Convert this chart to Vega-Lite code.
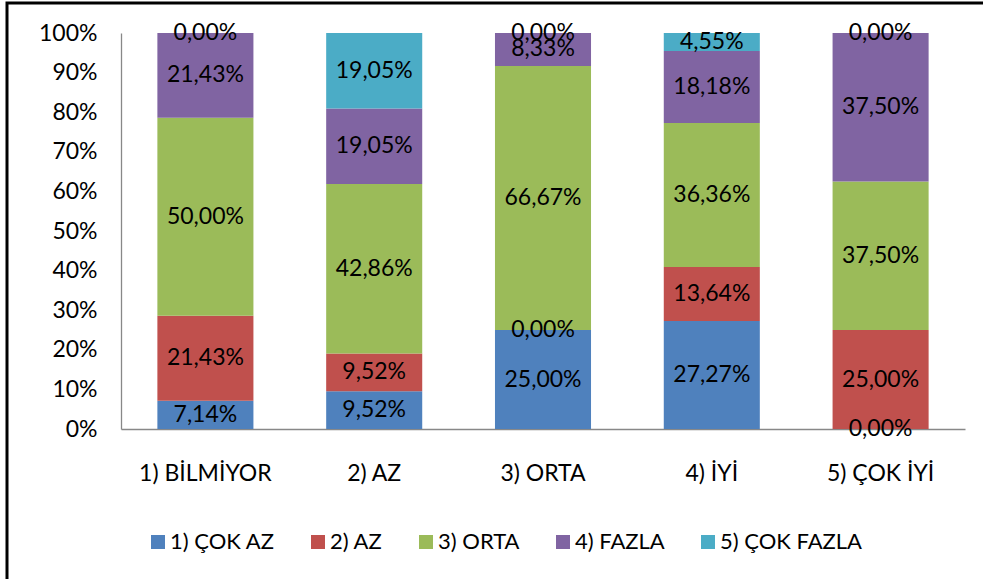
{
  "$schema": "https://vega.github.io/schema/vega-lite/v6.json",
  "width": 976,
  "height": 576,
  "autosize": {"type": "none"},
  "padding": {"left": 7, "top": 3, "right": 0, "bottom": 0},
  "background": "#ffffff",
  "config": {
    "font": "Lato",
    "locale": {"number": {"decimal": ",", "thousands": ".", "grouping": [3], "currency": ["", " TL"]}},
    "view": {"stroke": "#000000", "strokeWidth": 3, "fill": "#ffffff", "strokeDash": [976, 1552, 576]},
    "axis": {"labelFont": "Lato", "labelFontSize": 23, "labelColor": "#000000", "domainColor": "#888888", "domainWidth": 1.3, "ticks": false, "tickSize": 0, "grid": false, "title": null}
  },
  "data": {
    "values": [
      {"cat": "1) BİLMİYOR", "s": "1) ÇOK AZ", "v": 0.0714},
      {"cat": "1) BİLMİYOR", "s": "2) AZ", "v": 0.2143},
      {"cat": "1) BİLMİYOR", "s": "3) ORTA", "v": 0.5000},
      {"cat": "1) BİLMİYOR", "s": "4) FAZLA", "v": 0.2143},
      {"cat": "1) BİLMİYOR", "s": "5) ÇOK FAZLA", "v": 0.0},
      {"cat": "2) AZ", "s": "1) ÇOK AZ", "v": 0.0952},
      {"cat": "2) AZ", "s": "2) AZ", "v": 0.0952},
      {"cat": "2) AZ", "s": "3) ORTA", "v": 0.4286},
      {"cat": "2) AZ", "s": "4) FAZLA", "v": 0.1905},
      {"cat": "2) AZ", "s": "5) ÇOK FAZLA", "v": 0.1905},
      {"cat": "3) ORTA", "s": "1) ÇOK AZ", "v": 0.2500},
      {"cat": "3) ORTA", "s": "2) AZ", "v": 0.0},
      {"cat": "3) ORTA", "s": "3) ORTA", "v": 0.6667},
      {"cat": "3) ORTA", "s": "4) FAZLA", "v": 0.0833},
      {"cat": "3) ORTA", "s": "5) ÇOK FAZLA", "v": 0.0},
      {"cat": "4) İYİ", "s": "1) ÇOK AZ", "v": 0.2727},
      {"cat": "4) İYİ", "s": "2) AZ", "v": 0.1364},
      {"cat": "4) İYİ", "s": "3) ORTA", "v": 0.3636},
      {"cat": "4) İYİ", "s": "4) FAZLA", "v": 0.1818},
      {"cat": "4) İYİ", "s": "5) ÇOK FAZLA", "v": 0.0455},
      {"cat": "5) ÇOK İYİ", "s": "1) ÇOK AZ", "v": 0.0},
      {"cat": "5) ÇOK İYİ", "s": "2) AZ", "v": 0.2500},
      {"cat": "5) ÇOK İYİ", "s": "3) ORTA", "v": 0.3750},
      {"cat": "5) ÇOK İYİ", "s": "4) FAZLA", "v": 0.3750},
      {"cat": "5) ÇOK İYİ", "s": "5) ÇOK FAZLA", "v": 0.0}
    ]
  },
  "encoding": {
    "x": {
      "field": "cat", "type": "nominal", "sort": null,
      "scale": {"range": [114, 958], "paddingInner": 0.431, "paddingOuter": 0.2155},
      "axis": {"labelAngle": 0, "offset": -150, "labelPadding": 33, "labelBaseline": "top"}
    }
  },
  "layer": [
    {
      "mark": {"type": "bar"},
      "encoding": {
        "y": {
          "field": "v", "type": "quantitative", "stack": "zero",
          "scale": {"domain": [0, 1], "range": [426, 30], "nice": false, "zero": true},
          "axis": {"format": ".0%", "values": [0, 0.1, 0.2, 0.3, 0.4, 0.5, 0.6, 0.7, 0.8, 0.9, 1], "offset": -114, "labelPadding": 24}
        },
        "color": {
          "field": "s", "type": "nominal",
          "scale": {"domain": ["1) ÇOK AZ", "2) AZ", "3) ORTA", "4) FAZLA", "5) ÇOK FAZLA"], "range": ["#4F81BD", "#C0504D", "#9BBB59", "#8064A2", "#4BACC6"]},
          "legend": {
            "title": null, "orient": "none", "direction": "horizontal", "columns": 5,
            "legendX": 140, "legendY": 528, "symbolType": "square", "symbolSize": 196,
            "symbolStrokeWidth": 0, "labelFontSize": 22, "labelColor": "#000000", "labelFont": "Lato",
            "labelOffset": 1, "columnPadding": 32
          }
        },
        "order": {"field": "s", "sort": "ascending"}
      }
    },
    {
      "transform": [
        {"stack": "v", "groupby": ["cat"], "sort": [{"field": "s", "order": "ascending"}], "as": ["p0", "p1"]},
        {"fold": ["p0", "p1"], "as": ["edge", "pos"]}
      ],
      "mark": {"type": "text", "fontSize": 23, "color": "#000000", "align": "center", "baseline": "middle"},
      "encoding": {
        "y": {"field": "pos", "aggregate": "mean", "type": "quantitative"},
        "detail": {"field": "s", "type": "nominal"},
        "text": {"field": "v", "aggregate": "max", "type": "quantitative", "format": ".2%"}
      }
    }
  ]
}
